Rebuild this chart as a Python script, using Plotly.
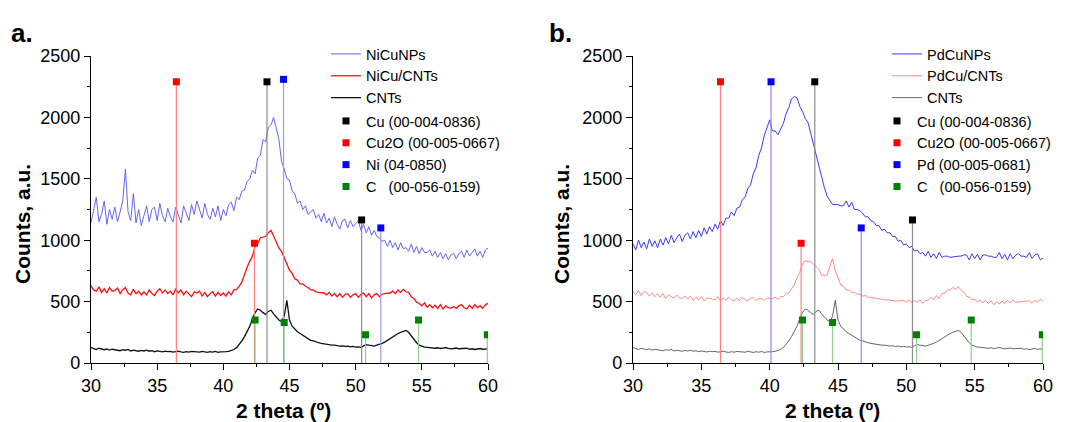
import numpy as np
import plotly.graph_objects as go

# 2 theta grid, 0.2 deg step from 30 to 60
two_theta = np.round(np.arange(30, 60.01, 0.2), 1)

# panel a: NiCu samples
nicu_nps = [
    1140, 1260, 1350, 1150, 1210, 1320, 1130, 1250, 1170, 1270,
    1150, 1230, 1320, 1580, 1230, 1160, 1380, 1140, 1250, 1120,
    1210, 1280, 1150, 1250, 1270, 1160, 1300, 1200, 1150, 1260,
    1190, 1150, 1270, 1210, 1140, 1280, 1220, 1160, 1290, 1210,
    1320, 1240, 1180, 1300, 1210, 1170, 1260, 1190, 1280, 1160,
    1250, 1200, 1290, 1310, 1240, 1350, 1330, 1400, 1410, 1480,
    1500, 1570, 1540, 1670, 1690, 1820, 1800, 1920, 1940, 2000,
    1920, 1820, 1640, 1580, 1500, 1490, 1400, 1380, 1300, 1320,
    1250, 1280, 1210, 1230, 1250, 1180, 1210, 1150, 1220, 1140,
    1180, 1110, 1190, 1130, 1090, 1160, 1170, 1100, 1160, 1110,
    1140, 1160, 1080, 1130, 1060, 1110, 1040, 1080, 1030, 1020,
    990, 1000, 950, 1000, 940, 980, 920, 980, 930, 940,
    910, 970, 900, 950, 890, 940, 900, 900, 920, 870,
    910, 860, 900, 850, 890, 840, 880, 895, 850, 890,
    910, 860, 920, 870, 900, 930, 870, 910, 860, 920,
    935,
]
nicu_cnts = [
    630, 595, 585, 620, 575, 605, 570, 615, 585, 590,
    610, 565, 595, 615, 570, 555, 600, 565, 585, 555,
    580, 555, 595, 565, 550, 585, 605, 570, 595, 565,
    585, 555, 605, 570, 595, 555, 585, 565, 540, 580,
    570, 585, 545, 575, 540, 565, 580, 545, 575, 550,
    570, 545, 580, 555, 595, 600, 625, 660, 725, 780,
    830, 870, 950, 975, 1020, 1025, 1030, 1060, 1080, 1035,
    990, 935, 910, 860, 810, 755, 730, 685, 675, 645,
    645, 625, 615, 595, 595, 580, 575, 575, 570, 555,
    575, 545, 565, 540, 565, 535, 560, 565, 535, 555,
    565, 535, 560, 570, 540, 565, 530, 555, 565, 540,
    560, 565, 565, 570, 585, 565, 595, 575, 600, 580,
    575, 540, 525, 495, 485, 465, 490, 455, 475, 450,
    470, 445, 475, 440, 465, 450, 445, 460, 445, 465,
    475, 450, 440, 470, 445, 475, 450, 465, 445, 475,
    485,
]
# same CNT pattern in both panels
cnts = [
    125, 115, 110, 120, 112, 108, 115, 105, 112, 108,
    110, 100, 108, 104, 110, 98, 104, 100, 96, 102,
    98, 104, 96, 100, 92, 98, 95, 90, 96, 92,
    95, 88, 92, 96, 90, 86, 92, 88, 94, 90,
    92, 88, 95, 90, 86, 92, 88, 94, 86, 90,
    88, 92, 95, 100, 110, 125, 150, 180, 215, 260,
    300, 360, 410, 440, 430, 410, 395, 420, 430, 400,
    370, 350, 335, 380, 510, 350, 300, 275, 255, 240,
    225, 210, 200, 185, 180, 170, 165, 160, 155, 150,
    150, 145, 145, 140, 138, 140, 135, 138, 132, 135,
    130, 132, 128, 140, 150, 145, 140, 138, 145, 150,
    160, 170, 185, 200, 215, 230, 240, 250, 258, 265,
    250, 220, 190, 165, 145, 135, 130, 128, 125, 122,
    120, 124, 118, 122, 126, 120, 115, 118, 122, 116,
    118, 114, 120, 112, 116, 110, 115, 118, 112, 116,
    115,
]

# panel b: PdCu samples
pdcu_nps = [
    970, 920, 1000, 940, 985, 930, 1010, 950, 995, 940,
    1010, 960, 1020, 970, 1040, 980, 1020, 1050, 990, 1040,
    1060, 1010, 1070, 1020, 1080, 1030, 1100, 1050, 1110, 1070,
    1130, 1090, 1160, 1120, 1180, 1180, 1230, 1200, 1260, 1270,
    1330, 1350, 1420, 1450, 1540, 1590, 1690, 1750, 1850, 1910,
    1980, 1890, 1890, 1860, 1910, 1950, 2030, 2080, 2150, 2170,
    2160, 2090, 2050, 1990, 1960, 1870, 1800, 1690, 1610, 1510,
    1430, 1360, 1330, 1290, 1290, 1290, 1280, 1280, 1320, 1270,
    1310, 1250, 1250, 1240, 1220, 1190, 1190, 1160, 1150, 1120,
    1120, 1080, 1090, 1060, 1060, 1030, 1030, 990, 1000, 960,
    970, 940, 950, 910, 920, 890, 900, 870, 910, 860,
    890, 850, 900, 860, 870, 870, 860, 865, 870, 870,
    870, 880, 880, 840, 890, 850, 885, 840, 880, 880,
    870, 870, 860, 860, 900, 850, 885, 840, 890, 850,
    880, 890, 870, 870, 860, 900, 850, 880, 890, 840,
    855,
]
pdcu_cnts = [
    585, 555, 590, 550, 580, 575, 545, 570, 540, 565,
    535, 565, 525, 555, 540, 530, 555, 530, 525, 545,
    520, 545, 510, 535, 515, 540, 505, 530, 525, 520,
    515, 540, 505, 530, 510, 535, 515, 505, 530, 510,
    535, 515, 505, 530, 530, 510, 525, 525, 510, 530,
    525, 525, 535, 520, 540, 540, 565, 570, 605, 635,
    695, 735, 805, 835, 825, 825, 805, 785, 765, 715,
    715, 715, 785, 850, 755, 685, 635, 625, 595, 595,
    575, 575, 560, 560, 545, 550, 535, 535, 530, 525,
    520, 520, 515, 515, 510, 510, 505, 505, 510, 510,
    495, 515, 490, 510, 495, 515, 485, 510, 510, 535,
    515, 550, 525, 565, 565, 595, 595, 615, 600, 620,
    595, 580, 545, 535, 515, 520, 495, 515, 490, 510,
    485, 505, 475, 500, 480, 505, 485, 510, 490, 515,
    495, 495, 500, 500, 505, 505, 485, 510, 495, 520,
    505,
]

# reference patterns: positions (2 theta) and stick heights
cu_pos = [43.3, 50.45]
cu_h = [2290, 1165]
cu2o_a_pos = [36.45, 42.35]
cu2o_b_pos = [36.4, 42.3]
cu2o_h = [2290, 975]
ni_pos = [44.55, 51.9]
ni_h = [2310, 1100]
pd_pos = [40.1, 46.7]
pd_h = [2290, 1100]
c_pos = [42.4, 44.6, 50.75, 54.75, 59.95]
c_h = [350, 330, 230, 350, 230]

FONT = "Arial, Liberation Sans, sans-serif"

# the page puts the plot 8px in from the window edge
OFF = 8
W, H = 1065 - OFF, 422 - OFF


def fx(px):
    return (px - OFF) / W


def fy(py):
    return (H - (py - OFF)) / H


fig = go.Figure()


def add_spectrum(xa, ya, name, y, color, width, legend):
    fig.add_trace(go.Scatter(x=two_theta, y=y, mode="lines", name=name,
                             line=dict(color=color, width=width),
                             xaxis=xa, yaxis=ya, legend=legend))


def add_sticks(xa, ya, pos, h, name, line_color, mark_color, legend):
    xs, ys = [], []
    for p, v in zip(pos, h):
        xs += [p, p, None]
        ys += [0, v, None]
    fig.add_trace(go.Scatter(x=xs, y=ys, mode="lines", showlegend=False,
                             line=dict(color=line_color, width=1.2),
                             xaxis=xa, yaxis=ya, hoverinfo="skip"))
    fig.add_trace(go.Scatter(x=pos, y=h, mode="markers", name=name,
                             marker=dict(symbol="square", size=7, color=mark_color),
                             xaxis=xa, yaxis=ya, legend=legend))


# panel a
add_spectrum("x", "y", "NiCuNPs", nicu_nps, "#6666f2", 1, "legend")
add_spectrum("x", "y", "NiCu/CNTs", nicu_cnts, "#ff0f0f", 1.3, "legend")
add_spectrum("x", "y", "CNTs", cnts, "#111111", 1.3, "legend")
add_sticks("x", "y", cu_pos, cu_h, "Cu (00-004-0836)", "#8c8c8c", "#000000", "legend2")
add_sticks("x", "y", cu2o_a_pos, cu2o_h, "Cu2O (00-005-0667)", "#ff8080", "#ff0000", "legend2")
add_sticks("x", "y", ni_pos, ni_h, "Ni (04-0850)", "#9a9af5", "#0000ff", "legend2")
add_sticks("x", "y", c_pos, c_h, "C   (00-056-0159)", "#8fcf8f", "#008000", "legend2")

# panel b
add_spectrum("x2", "y2", "PdCuNPs", pdcu_nps, "#3b3bf5", 1, "legend3")
add_spectrum("x2", "y2", "PdCu/CNTs", pdcu_cnts, "#ff7a7a", 0.9, "legend3")
add_spectrum("x2", "y2", "CNTs", cnts, "#555555", 0.9, "legend3")
add_sticks("x2", "y2", cu_pos, cu_h, "Cu (00-004-0836)", "#8c8c8c", "#000000", "legend4")
add_sticks("x2", "y2", cu2o_b_pos, cu2o_h, "Cu2O (00-005-0667)", "#ff8080", "#ff0000", "legend4")
add_sticks("x2", "y2", pd_pos, pd_h, "Pd (00-005-0681)", "#8a8af5", "#0000ff", "legend4")
add_sticks("x2", "y2", c_pos, c_h, "C   (00-056-0159)", "#8fcf8f", "#008000", "legend4")

ydom = [fy(363), fy(56)]

xax = dict(range=[30, 60], dtick=5, ticks="outside", ticklen=6, tickwidth=1.2,
           showline=True, linecolor="black", linewidth=1.3, showgrid=False,
           zeroline=False, tickfont=dict(size=18, color="black"), automargin=False,
           minor=dict(ticks="outside", dtick=2.5, ticklen=3, tickwidth=1.2, tickcolor="black"),
           tickcolor="black")
yax = dict(range=[0, 2500], dtick=500, ticks="outside", ticklen=6, tickwidth=1.2,
           showline=True, linecolor="black", linewidth=1.3, showgrid=False,
           zeroline=False, tickfont=dict(size=18, color="black"), domain=ydom,
           automargin=False,
           minor=dict(ticks="outside", dtick=250, ticklen=3, tickwidth=1.2, tickcolor="black"),
           tickcolor="black")

leg = dict(bgcolor="rgba(0,0,0,0)", borderwidth=0, xanchor="left", yanchor="top",
           font=dict(size=14.5, family=FONT, color="black"), tracegroupgap=0)

fig.update_layout(
    width=W, height=H, margin=dict(l=0, r=0, t=0, b=0, autoexpand=False),
    paper_bgcolor="white", plot_bgcolor="white",
    font=dict(family=FONT, color="black"),
    xaxis={**xax, "domain": [fx(91), fx(488)], "anchor": "y"},
    yaxis={**yax, "anchor": "x"},
    xaxis2={**xax, "domain": [fx(633), fx(1043)], "anchor": "y2"},
    yaxis2={**yax, "anchor": "x2"},
    legend={**leg, "x": fx(326), "y": fy(38)},
    legend2={**leg, "x": fx(326), "y": fy(105)},
    legend3={**leg, "x": fx(887), "y": fy(38)},
    legend4={**leg, "x": fx(877), "y": fy(105)},
)

anno = [
    ("a.", 22, 33, 26), ("b.", 560, 33, 26),
    ("2 theta (º)", 283, 410, 21), ("2 theta (º)", 832, 410, 21),
]
for txt, px, py, size in anno:
    fig.add_annotation(text="<b>%s</b>" % txt, x=fx(px), y=fy(py),
                       xref="paper", yref="paper", showarrow=False,
                       xanchor="center", yanchor="middle",
                       font=dict(size=size, family=FONT, color="black"))
for px in [22, 561]:
    fig.add_annotation(text="<b>Counts, a.u.</b>", x=fx(px), y=fy(224),
                       xref="paper", yref="paper", showarrow=False, textangle=-90,
                       xanchor="center", yanchor="middle",
                       font=dict(size=21, family=FONT, color="black"))

fig.write_html("out.html")
